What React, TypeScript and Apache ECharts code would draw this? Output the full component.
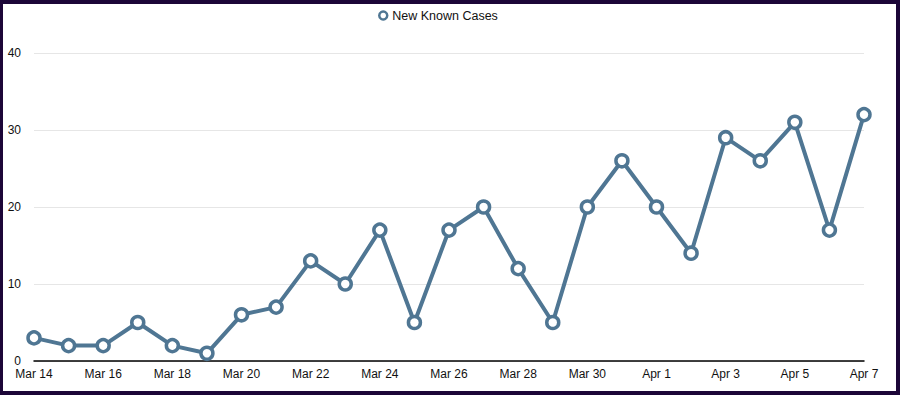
import React, { useEffect, useRef } from "react";
import * as echarts from "echarts";

const categories = [
  "Mar 14", "Mar 15", "Mar 16", "Mar 17", "Mar 18", "Mar 19", "Mar 20", "Mar 21",
  "Mar 22", "Mar 23", "Mar 24", "Mar 25", "Mar 26", "Mar 27", "Mar 28", "Mar 29",
  "Mar 30", "Mar 31", "Apr 1", "Apr 2", "Apr 3", "Apr 4", "Apr 5", "Apr 6", "Apr 7",
];
const newKnownCases = [3, 2, 2, 5, 2, 1, 6, 7, 13, 10, 17, 5, 17, 20, 12, 5, 20, 26, 20, 14, 29, 26, 31, 17, 32];
const seriesName = "New Known Cases";

export default function App() {
  const ref = useRef<HTMLDivElement>(null);
  useEffect(() => {
    document.body.style.margin = "0";
    const chart = echarts.init(ref.current!, null, { renderer: "svg" });
    const color = "#4f7693";
    chart.setOption({
      animation: false,
      backgroundColor: "#ffffff",
      textStyle: { fontFamily: "Liberation Sans, Arial, sans-serif" },
      legend: {
        data: [{ name: seriesName, icon: "circle" }],
        top: 4,
        left: 373,
        itemWidth: 8,
        itemHeight: 8,
        itemGap: 10,
        textStyle: { fontSize: 12.5, color: "#111" },
        itemStyle: { color: "#ffffff", borderColor: color, borderWidth: 2.5 },
      },
      grid: { left: 34, right: 47, top: 53, bottom: 38, containLabel: false },
      xAxis: {
        type: "category",
        data: categories,
        boundaryGap: false,
        axisLine: { lineStyle: { color: "#000", width: 1.5 } },
        axisTick: { show: false },
        axisLabel: { interval: 1, fontSize: 12, color: "#111", margin: 7 },
        splitLine: { show: false },
      },
      yAxis: {
        type: "value",
        min: 0,
        max: 40,
        interval: 10,
        axisLine: { show: false },
        axisTick: { show: false },
        axisLabel: { fontSize: 12, color: "#111", margin: 13, padding: [0, 0, 3, 0] },
        splitLine: { lineStyle: { color: "#e6e6e6", width: 1 } },
      },
      series: [
        {
          name: seriesName,
          type: "line",
          data: newKnownCases,
          symbol: "circle",
          symbolSize: 12,
          lineStyle: { color, width: 4 },
          itemStyle: { color: "#ffffff", borderColor: color, borderWidth: 3.5 },
        },
      ],
    });
    return () => chart.dispose();
  }, []);
  return (
    <div style={{ position: "absolute", left: 0, top: 0, width: 911, height: 399, background: "#fff" }}>
      <div ref={ref} style={{ position: "absolute", left: 0, top: 0, width: 911, height: 399 }} />
      <div
        style={{
          position: "absolute",
          left: -1,
          top: 0,
          width: 901,
          height: 395,
          boxSizing: "border-box",
          border: "4px solid #1c0638",
          pointerEvents: "none",
        }}
      />
    </div>
  );
}
